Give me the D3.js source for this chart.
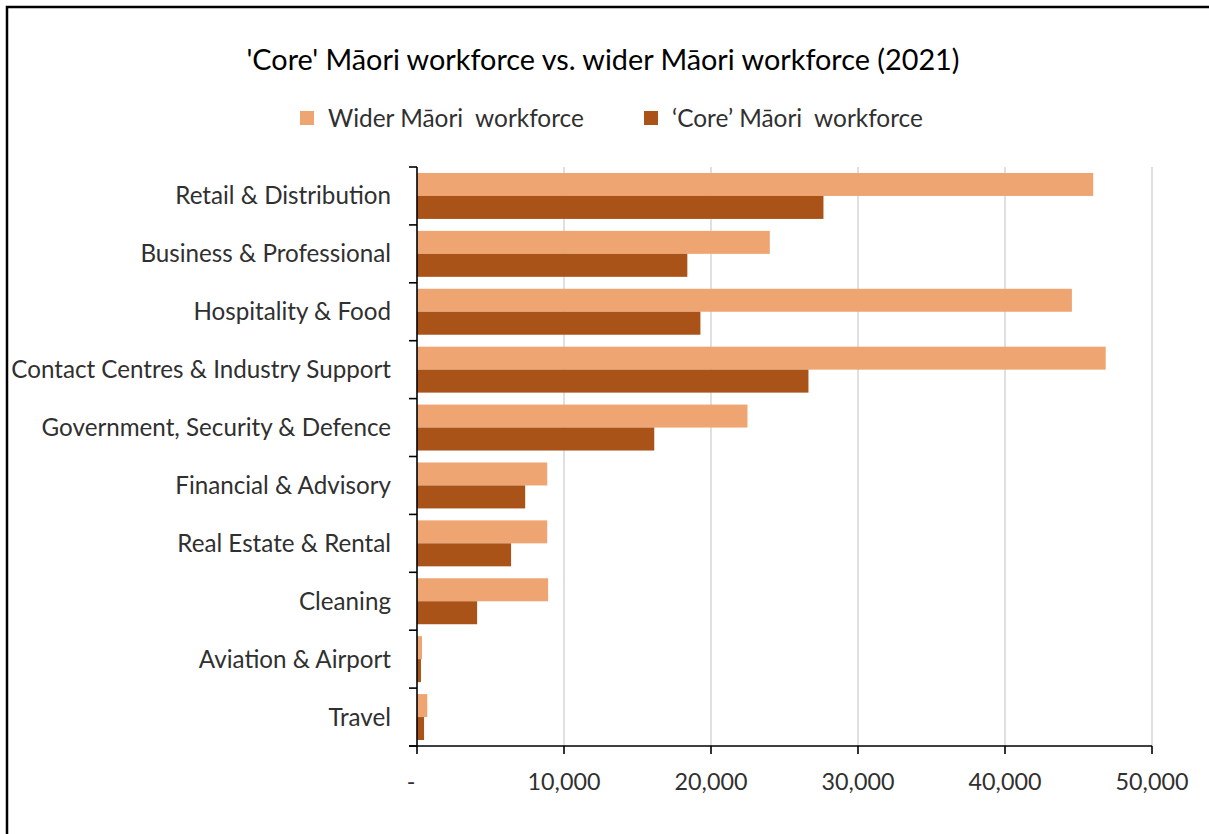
<!DOCTYPE html>
<html>
<head>
<meta charset="utf-8">
<script src="https://cdn.jsdelivr.net/npm/d3@7/dist/d3.min.js"></script>
<style>
  html, body { margin: 0; padding: 0; background: #fff; }
  svg { display: block; }
  text { font-family: Lato, "Open Sans", sans-serif; }
</style>
</head>
<body>
<svg id="chart" width="1209" height="834"></svg>
<script>
// Industry groups, top to bottom
const categories = [
  "Retail & Distribution",
  "Business & Professional",
  "Hospitality & Food",
  "Contact Centres & Industry Support",
  "Government, Security & Defence",
  "Financial & Advisory",
  "Real Estate & Rental",
  "Cleaning",
  "Aviation & Airport",
  "Travel"
];
const seriesNames = ["Wider Māori  workforce", "\u2018Core\u2019 Māori  workforce"];
const widerValues = [46000, 24000, 44550, 46850, 22480, 8860, 8860, 8920, 340, 700];
const coreValues  = [27650, 18390, 19280, 26630, 16140, 7360, 6400, 4090, 270, 480];
const xTicks = [0, 10000, 20000, 30000, 40000, 50000];
const colors = ["#EEA572", "#A95318"];
const titleText = "'Core' Māori workforce vs. wider Māori workforce (2021)";

const svg = d3.select("#chart");

// outer frame
svg.append("path")
  .attr("d", "M7,834 L7,7 L1209,7")
  .attr("fill", "none").attr("stroke", "#000").attr("stroke-width", 2.5);

const plotLeft = 417, plotRight = 1152, plotTop = 167, plotBottom = 746;

const x = d3.scaleLinear().domain([0, 50000]).range([plotLeft, plotRight]);
const y = d3.scaleBand().domain(categories).range([plotTop, plotBottom]).padding(0);
const ySub = d3.scaleBand().domain([0, 1]).range([0, y.bandwidth()])
  .paddingInner(0).paddingOuter(0.26);

// gridlines
svg.append("g").selectAll("line").data(xTicks.slice(1)).join("line")
  .attr("x1", d => x(d)).attr("x2", d => x(d))
  .attr("y1", plotTop).attr("y2", plotBottom)
  .attr("stroke", "#d9d9d9").attr("stroke-width", 1.6);

// bars
const rows = categories.map((c, i) => ({ c, vals: [widerValues[i], coreValues[i]] }));
const g = svg.append("g");
rows.forEach(r => {
  g.append("g").selectAll("rect").data(r.vals).join("rect")
    .attr("x", x(0))
    .attr("y", (d, j) => y(r.c) + ySub(j))
    .attr("width", d => x(d) - x(0))
    .attr("height", ySub.bandwidth())
    .attr("fill", (d, j) => colors[j]);
});

// y axis line and category boundary ticks
svg.append("line")
  .attr("x1", plotLeft).attr("x2", plotLeft).attr("y1", plotTop).attr("y2", plotBottom)
  .attr("stroke", "#000").attr("stroke-width", 1.6);
const bounds = categories.map(c => y(c)).concat([plotBottom]);
svg.append("g").selectAll("line").data(bounds).join("line")
  .attr("x1", plotLeft - 8).attr("x2", plotLeft)
  .attr("y1", d => d).attr("y2", d => d)
  .attr("stroke", "#000").attr("stroke-width", 1.6);

// category labels
svg.append("g").selectAll("text").data(categories).join("text")
  .attr("x", 391)
  .attr("y", d => y(d) + y.bandwidth() / 2)
  .attr("dy", "0.35em")
  .attr("text-anchor", "end")
  .attr("font-size", 24.2)
  .attr("fill", "#303030")
  .text(d => d);

// x axis
svg.append("line")
  .attr("x1", plotLeft - 8).attr("x2", plotRight).attr("y1", plotBottom).attr("y2", plotBottom)
  .attr("stroke", "#000").attr("stroke-width", 1.6);
svg.append("g").selectAll("line").data(xTicks).join("line")
  .attr("x1", d => x(d)).attr("x2", d => x(d))
  .attr("y1", plotBottom).attr("y2", plotBottom + 8)
  .attr("stroke", "#000").attr("stroke-width", 1.6);
const fmt = d3.format(",");
svg.append("g").selectAll("text").data(xTicks).join("text")
  .attr("x", d => d === 0 ? x(d) - 6 : x(d))
  .attr("y", 782)
  .attr("dy", "0.35em")
  .attr("text-anchor", "middle")
  .attr("font-size", 23.3)
  .attr("fill", "#303030")
  .text(d => d === 0 ? "-" : fmt(d));

// title
svg.append("text")
  .attr("x", 603).attr("y", 60).attr("dy", "0.35em")
  .attr("text-anchor", "middle")
  .attr("font-size", 28.8)
  .attr("fill", "#000")
  .text(titleText);

// legend
const legendX = [300, 644];
const lg = svg.append("g");
seriesNames.forEach((s, i) => {
  lg.append("rect").attr("x", legendX[i]).attr("y", 111).attr("width", 14).attr("height", 14)
    .attr("fill", colors[i]);
  lg.append("text").attr("x", legendX[i] + 28).attr("y", 118).attr("dy", "0.35em")
    .attr("font-size", 24.4).attr("fill", "#303030")
    .style("white-space", "pre")
    .text(s);
});
</script>
</body>
</html>
